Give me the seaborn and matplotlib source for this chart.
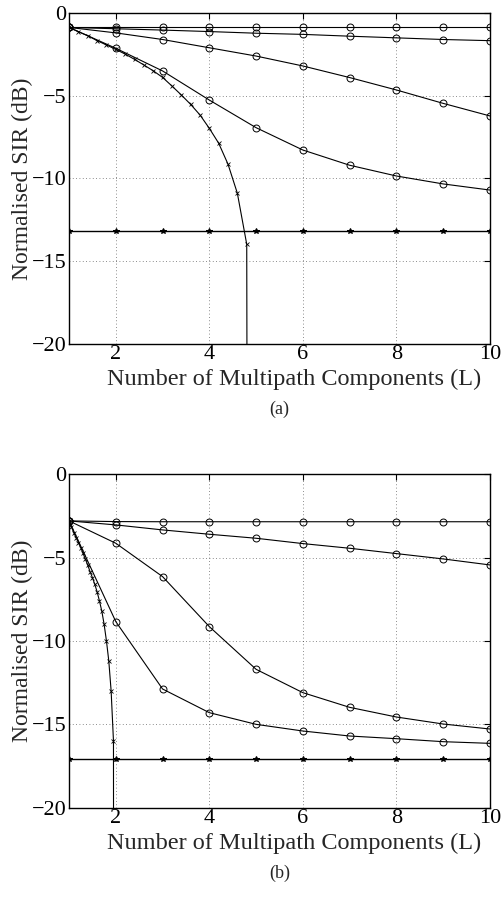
import numpy as np
import pandas as pd
import matplotlib
matplotlib.use("Agg")
import matplotlib.pyplot as plt
import seaborn as sns

# ---------------- data ----------------
L = [1, 2, 3, 4, 5, 6, 7, 8, 9, 10]

# panel (a)
a_flat = [-0.87, -0.87, -0.87, -0.87, -0.87, -0.87, -0.87, -0.87, -0.87, -0.87]
a_mild = [-0.87, -0.95, -1.03, -1.12, -1.22, -1.29, -1.40, -1.50, -1.60, -1.67]
a_mid = [-0.87, -1.20, -1.60, -2.10, -2.60, -3.20, -3.90, -4.65, -5.46, -6.22]
a_steep = [-0.87, -2.13, -3.50, -5.26, -6.93, -8.28, -9.20, -9.85, -10.33, -10.70]
a_floor = [-13.2] * 10
a_x_L = [1.0, 1.2, 1.4, 1.6, 1.8, 2.0, 2.2, 2.4, 2.6, 2.8, 3.0, 3.2, 3.4, 3.6,
         3.8, 4.0, 4.2, 4.4, 4.6, 4.8, 4.83]
a_x_val = [-0.87, -1.13, -1.37, -1.67, -1.93, -2.20, -2.48, -2.80, -3.14, -3.49,
           -3.89, -4.41, -4.95, -5.52, -6.16, -6.97, -7.87, -9.14, -10.9, -13.98,
           -60.0]

# panel (b)
b_flat = [-2.80, -2.84, -2.85, -2.85, -2.85, -2.85, -2.85, -2.85, -2.85, -2.85]
b_mild = [-2.80, -3.04, -3.34, -3.60, -3.84, -4.16, -4.44, -4.76, -5.08, -5.44]
b_mid = [-2.80, -4.14, -6.14, -9.14, -11.70, -13.10, -13.98, -14.56, -14.98, -15.28]
b_steep = [-2.80, -8.84, -12.88, -14.30, -15.00, -15.40, -15.70, -15.86, -16.04, -16.14]
b_floor = [-17.08] * 10
b_x_L = [1.00, 1.05, 1.10, 1.15, 1.20, 1.25, 1.30, 1.35, 1.40, 1.45, 1.50, 1.55,
         1.60, 1.65, 1.70, 1.75, 1.80, 1.85, 1.90, 1.95, 1.96]
b_x_val = [-2.80, -3.15, -3.50, -3.80, -4.10, -4.40, -4.75, -5.10, -5.45, -5.85,
           -6.20, -6.60, -7.05, -7.60, -8.20, -9.00, -10.00, -11.20, -13.00, -16.00,
           -60.0]

xticks = [2, 4, 6, 8, 10]
yticks = [0, -5, -10, -15, -20]
xlabel = "Number of Multipath Components (L)"
ylabel = "Normalised SIR (dB)"
captions = ["(a)", "(b)"]

# ---------------- style ----------------
sns.set_style("white")
plt.rcParams["font.family"] = ["Liberation Serif", "DejaVu Serif"]

fig = plt.figure(figsize=(5.04, 9.05), dpi=100)
ax_a = fig.add_axes([0.137, 0.620, 0.835, 0.3656])
ax_b = fig.add_axes([0.137, 0.1075, 0.835, 0.3685])


def draw(ax, flat, mild, mid, steep, floor, xl, xv, caption):
    circ = dict(marker="o", markersize=5, markerfacecolor="none",
                markeredgecolor="black", markeredgewidth=0.7)
    for ser in (flat, mild, mid, steep):
        df = pd.DataFrame({"L": L, "SIR": ser})
        sns.lineplot(data=df, x="L", y="SIR", ax=ax, color="black",
                     linewidth=0.8, estimator=None, sort=False, **circ)
    df = pd.DataFrame({"L": L, "SIR": floor})
    sns.lineplot(data=df, x="L", y="SIR", ax=ax, color="black", linewidth=1.0,
                 estimator=None, sort=False, marker="*", markersize=4,
                 markeredgecolor="black", markerfacecolor="black")
    df = pd.DataFrame({"L": xl, "SIR": xv})
    sns.lineplot(data=df, x="L", y="SIR", ax=ax, color="black", linewidth=0.8,
                 estimator=None, sort=False, marker="x", markersize=3.5,
                 markeredgecolor="black", markeredgewidth=0.6)

    ax.set_xlim(1, 10)
    ax.set_ylim(-20, 0)
    ax.set_xticks(xticks)
    ax.set_yticks(yticks)
    ax.set_xticklabels([str(t) for t in xticks])
    ax.set_yticklabels([str(t).replace("-", "\u2212") for t in yticks])
    ax.grid(True, linestyle=(0, (1, 3)), color="black", linewidth=0.6, alpha=0.6)
    ax.tick_params(direction="in", length=4, width=0.8, top=True, right=True,
                   labelsize=16, colors="black")
    ax.tick_params(axis="x", pad=1)
    ax.tick_params(axis="y", pad=2)
    for s in ax.spines.values():
        s.set_color("black")
        s.set_linewidth(1.0)
    ax.set_xlabel(xlabel, fontsize=17.5)
    ax.set_ylabel(ylabel, fontsize=17)
    ax.xaxis.set_label_coords(0.535, -0.075)
    ax.yaxis.set_label_coords(-0.085, 0.5)
    ax.text(0.5, -0.197, caption, transform=ax.transAxes, ha="center",
            va="center", fontsize=13)


draw(ax_a, a_flat, a_mild, a_mid, a_steep, a_floor, a_x_L, a_x_val, captions[0])
draw(ax_b, b_flat, b_mild, b_mid, b_steep, b_floor, b_x_L, b_x_val, captions[1])

fig.savefig("out.png", dpi=100)
